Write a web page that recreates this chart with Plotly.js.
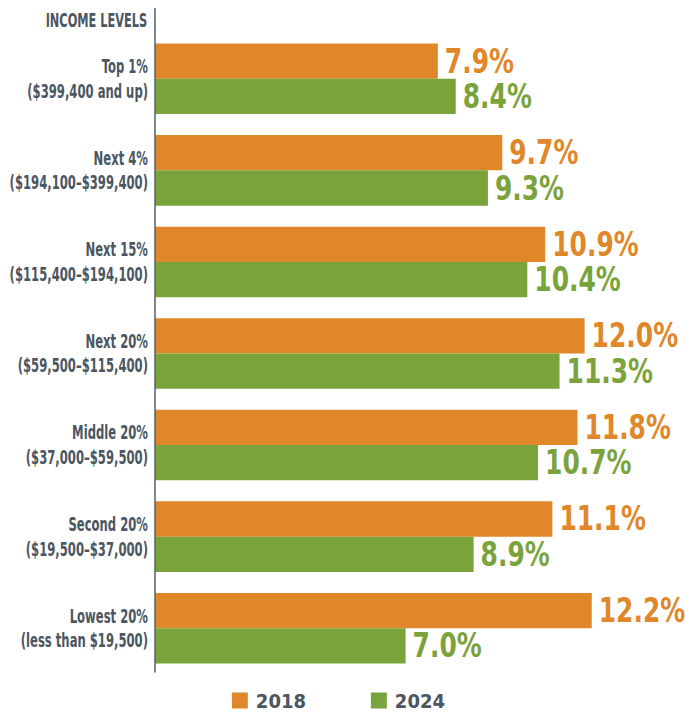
<!DOCTYPE html>
<html><head><meta charset="utf-8">
<script src="https://cdn.plot.ly/plotly-3.0.1.min.js"></script>
<style>html,body{margin:0;padding:0;background:#fff}</style>
</head><body><div id="chart" style="width:691px;height:713px"></div>
<script>
const categories = ["Top 1%", "Next 4%", "Next 15%", "Next 20%", "Middle 20%", "Second 20%", "Lowest 20%"];
const ranges = ["($399,400 and up)", "($194,100–$399,400)", "($115,400–$194,100)", "($59,500–$115,400)", "($37,000–$59,500)", "($19,500–$37,000)", "(less than $19,500)"];
const values2018 = [7.9, 9.7, 10.9, 12.0, 11.8, 11.1, 12.2];
const values2024 = [8.4, 9.3, 10.4, 11.3, 10.7, 8.9, 7.0];
const seriesNames = ["2018", "2024"];
const axisTitle = "INCOME LEVELS";

const orange = "#E0872A", green = "#7BA33B", gray = "#4B5661";
const cond = "'DejaVu Sans Condensed', 'DejaVu Sans', sans-serif";
const tickText = categories.map((c, i) => c + "<br>" + ranges[i]);

function trace(vals, name, color) {
  return {
    type: "bar", orientation: "h", name: name,
    x: vals, y: categories,
    marker: {color: color},
    texttemplate: "%{x:.1f}%", textposition: "outside",
    textfont: {family: cond, size: 33, color: color, weight: 700},
    constraintext: "none", cliponaxis: false, hoverinfo: "skip"
  };
}
const data = [trace(values2018, seriesNames[0], orange), trace(values2024, seriesNames[1], green)];
const layout = {
  width: 691, height: 713,
  margin: {l: 155, r: 0, t: 32.9, b: 38.5, pad: 0, autoexpand: false},
  paper_bgcolor: "#fff", plot_bgcolor: "#fff",
  barmode: "group", bargap: 0.229, bargroupgap: 0,
  xaxis: {range: [0, 536 / 35.8], visible: false, fixedrange: true},
  yaxis: {
    autorange: "reversed", tickmode: "array", tickvals: categories, ticktext: tickText,
    showline: false, showgrid: false, zeroline: false, ticks: "", ticklabelstandoff: 6,
    tickfont: {family: cond, size: 19, color: gray, weight: 700}
  },
  shapes: [{type: "line", xref: "paper", yref: "paper", x0: 0, x1: 0, y0: 0.0024, y1: 1.039,
    line: {color: "#56606A", width: 1.5}}],
  annotations: [{text: axisTitle, xref: "paper", yref: "paper", x: 0, y: 1.0209, xanchor: "right", yanchor: "middle",
    xshift: -6, showarrow: false, font: {family: cond, size: 20, color: gray, weight: 700}}],
  showlegend: true,
  legend: {orientation: "h", x: 0.121, xanchor: "left", y: -0.0413, yanchor: "middle",
    entrywidth: 94, traceorder: "normal", borderwidth: 0,
    font: {family: cond, size: 20, color: gray, weight: 700}}
};
function squeeze(sel, s, mode) {
  document.querySelectorAll(sel).forEach(t => {
    const b = t.getBBox();
    let ax;
    if (mode === "end") ax = b.x + b.width;
    else if (mode === "start") ax = b.x + 4 / (1 - s);
    else ax = b.x + b.width / 2;
    const tr = t.getAttribute("transform") || "";
    t.setAttribute("transform", tr + " translate(" + ax + ",0) scale(" + s + ",1) translate(" + (-ax) + ",0)");
  });
}
Plotly.newPlot("chart", data, layout, {displayModeBar: false, staticPlot: true}).then(() => {
  squeeze(".ytick text", 0.68, "end");
  squeeze(".annotation-text", 0.63, "end");
  squeeze(".bartext", 0.84, "start");
  document.querySelectorAll(".legendpoints path").forEach(p => {
    const tr = p.getAttribute("transform") || "";
    p.setAttribute("transform", tr + " scale(1.33)");
  });
  document.querySelectorAll(".legendtext").forEach(t => {
    const tr = t.getAttribute("transform") || "";
    t.setAttribute("transform", tr + " translate(-4,0)");
  });
});
</script></body></html>
